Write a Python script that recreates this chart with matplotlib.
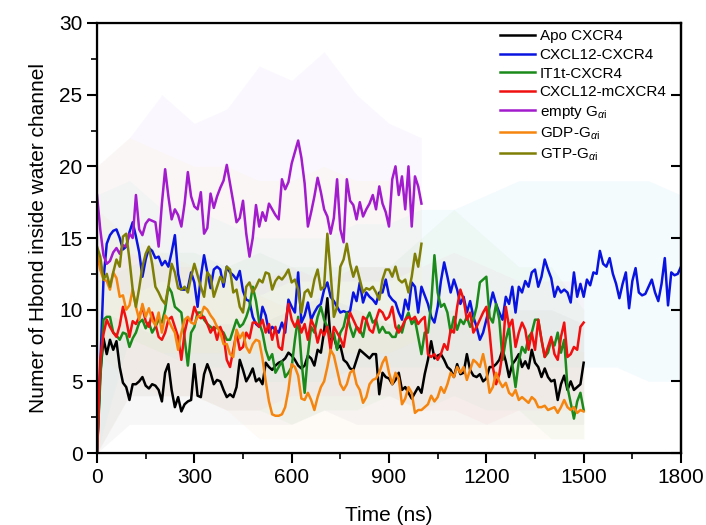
import numpy as np
import matplotlib
matplotlib.use('Agg')
import matplotlib.pyplot as plt
from matplotlib.ticker import MultipleLocator

plt.rcParams['font.family'] = ['Liberation Sans', 'DejaVu Sans']
plt.rcParams['mathtext.fontset'] = 'custom'
plt.rcParams['mathtext.rm'] = 'Liberation Sans'
plt.rcParams['mathtext.it'] = 'Liberation Sans:italic'

# smoothed curves, sampled every 10 ns
apo = [0.0, 5.5, 8.0, 6.9, 7.9, 7.2, 7.8, 6.0, 4.9, 4.6, 3.7, 4.8, 4.8, 5.0, 5.3, 4.7, 4.5, 4.8, 4.7, 4.4,
       3.6, 5.6, 6.2, 4.4, 3.2, 3.9, 2.9, 3.4, 3.6, 3.7, 6.2, 4.0, 3.9, 5.5, 6.2, 5.6, 4.8, 5.1, 5.0, 4.4,
       3.9, 4.1, 3.9, 4.6, 6.5, 5.8, 5.0, 5.4, 5.9, 5.0, 5.2, 4.8, 6.3, 6.0, 5.8, 6.1, 6.3, 6.4, 6.6, 7.0,
       6.8, 6.5, 6.1, 5.9, 6.1, 6.8, 6.6, 6.1, 7.2, 7.0, 8.5, 10.8, 7.9, 8.1, 7.3, 7.5, 6.5, 6.3, 5.9, 5.8,
       6.5, 7.2, 7.0, 6.8, 6.6, 6.9, 6.9, 4.1, 5.6, 5.3, 5.2, 4.8, 5.1, 5.6, 4.4, 4.6, 4.2, 3.8, 4.2, 4.6,
       4.2, 5.5, 6.5, 7.8, 6.6, 6.8, 6.9, 6.5, 6.0, 5.8, 5.3, 6.2, 5.5, 5.6, 6.9, 5.8, 5.4, 5.3, 5.5, 5.0,
       5.2, 6.0, 6.0, 6.2, 6.5, 7.2, 6.4, 5.3, 6.2, 6.5, 6.9, 6.0, 6.4, 5.9, 7.2, 6.3, 6.0, 5.3, 5.9, 5.3,
       5.0, 5.1, 3.7, 4.8, 5.4, 4.4, 5.0, 4.4, 4.6, 4.8, 6.3]

cxcl12 = [0.0, 6.0, 12.1, 14.6, 15.2, 15.5, 15.6, 15.0, 14.2, 14.4, 15.4, 16.1, 15.1, 14.0, 12.3, 13.5, 14.3,
          14.1, 13.6, 13.7, 13.1, 13.4, 13.0, 14.0, 15.2, 12.5, 11.4, 11.4, 11.5, 12.6, 11.9, 10.2, 12.3, 13.8,
          12.6, 11.5, 12.8, 13.0, 12.8, 11.6, 13.0, 12.6, 12.4, 12.1, 12.7, 11.3, 10.7, 10.6, 9.5, 9.0, 8.8,
          10.2, 9.6, 8.4, 8.8, 8.6, 8.4, 9.1, 8.4, 10.7, 10.2, 9.8, 12.6, 9.1, 9.6, 10.5, 9.3, 9.8, 10.2, 10.4,
          11.4, 11.9, 10.9, 10.6, 10.2, 9.8, 9.9, 9.8, 9.9, 11.2, 10.6, 11.9, 10.5, 11.2, 10.9, 10.7, 10.4,
          11.2, 11.2, 12.1, 11.0, 10.7, 10.5, 9.8, 9.3, 10.7, 10.0, 11.9, 11.6, 9.8, 11.6, 11.0, 10.4, 9.5,
          9.1, 10.2, 12.0, 13.3, 12.3, 11.2, 12.1, 11.4, 10.4, 10.9, 9.8, 10.6, 9.5, 8.8, 7.9, 8.4, 9.3, 10.2,
          11.2, 10.4, 9.8, 9.3, 10.9, 10.4, 11.6, 9.8, 11.6, 11.2, 12.0, 11.6, 12.6, 12.8, 11.6, 12.3, 13.5,
          12.8, 12.2, 10.9, 11.6, 11.2, 11.4, 11.2, 10.5, 12.6, 10.9, 11.8, 10.9, 12.1, 11.7, 12.6, 12.5,
          14.1, 13.2, 13.0, 13.6, 12.5, 11.8, 10.8, 11.8, 12.6, 10.1, 12.0, 12.9, 11.2, 11.0, 11.1, 11.6,
          12.1, 11.2, 10.6, 11.8, 13.6, 10.3, 12.6, 12.4, 12.5, 13.0]

it1t = [0.0, 5.0, 9.3, 9.5, 9.5, 8.4, 8.2, 7.9, 8.4, 8.3, 7.4, 8.0, 8.4, 9.1, 9.3, 8.7, 9.1, 8.4, 8.8, 9.3,
        9.1, 10.0, 11.6, 11.2, 10.2, 10.0, 9.8, 8.0, 6.1, 8.4, 8.8, 9.8, 9.8, 9.3, 9.0, 8.8, 8.6, 8.8, 8.6,
        8.4, 7.9, 7.9, 8.6, 9.3, 8.8, 9.0, 9.5, 10.2, 11.6, 10.6, 9.1, 8.4, 7.2, 6.5, 6.9, 5.6, 6.0, 6.4,
        5.3, 5.6, 6.0, 7.9, 9.5, 6.5, 4.2, 6.9, 8.8, 8.4, 9.5, 10.2, 9.3, 8.8, 8.1, 8.4, 7.2, 8.4, 8.8, 9.8,
        8.8, 8.1, 8.8, 8.6, 8.1, 9.3, 9.8, 9.1, 9.3, 8.4, 8.8, 8.4, 8.4, 8.1, 8.1, 8.9, 8.4, 9.3, 9.8, 9.0,
        9.3, 8.1, 6.9, 8.4, 8.4, 10.4, 13.8, 11.2, 10.2, 10.4, 9.8, 8.4, 9.5, 8.6, 9.3, 9.0, 9.5, 8.8, 9.3,
        10.2, 11.9, 12.1, 12.3, 9.5, 9.1, 10.4, 9.3, 6.5, 7.9, 8.8, 6.2, 4.6, 6.4, 7.4, 7.0, 8.1, 8.4, 9.3,
        9.3, 7.9, 6.7, 7.0, 7.9, 7.5, 8.4, 7.0, 7.9, 4.6, 3.5, 2.4, 3.6, 4.2, 3.0]

mutant = [0.0, 6.5, 8.3, 9.3, 8.8, 8.4, 8.1, 8.9, 10.2, 9.3, 8.1, 9.2, 9.0, 9.5, 10.2, 9.2, 8.8, 9.8, 9.0,
          8.1, 7.9, 8.4, 9.3, 9.5, 8.8, 8.1, 6.5, 8.4, 9.4, 9.2, 10.2, 9.6, 9.4, 9.5, 9.0, 8.4, 8.8, 7.9,
          8.8, 8.2, 6.5, 6.0, 7.2, 8.4, 7.2, 7.4, 8.4, 8.0, 9.1, 9.1, 8.8, 9.3, 8.4, 9.0, 7.9, 8.8, 7.4, 7.2,
          9.0, 10.4, 9.3, 8.8, 9.3, 8.4, 9.0, 7.9, 9.3, 8.8, 7.7, 8.6, 8.2, 8.8, 7.2, 8.8, 8.4, 8.0, 7.4,
          8.8, 9.8, 9.3, 8.8, 8.4, 9.5, 9.3, 8.6, 8.4, 9.3, 10.0, 9.8, 9.3, 9.5, 10.2, 8.8, 8.4, 8.8, 9.3,
          9.5, 9.3, 9.5, 9.0, 9.3, 9.5, 6.9, 6.7, 6.9, 6.5, 6.9, 7.6, 7.2, 8.6, 8.4, 10.2, 11.4, 10.7, 9.3,
          9.8, 8.4, 8.8, 9.3, 9.8, 10.2, 8.4, 6.0, 4.8, 5.5, 7.0, 10.2, 8.8, 9.3, 7.4, 8.4, 9.1, 8.6, 7.2,
          8.4, 7.2, 9.3, 7.9, 6.7, 7.4, 8.1, 6.9, 6.5, 8.1, 9.1, 6.7, 6.9, 7.4, 7.2, 8.8, 9.1]

empty_g = [18.0, 15.6, 13.8, 13.2, 13.4, 14.0, 14.3, 13.9, 14.5, 14.4, 15.3, 15.0, 18.0, 15.6, 15.2, 16.0,
           16.3, 16.2, 16.1, 14.4, 17.4, 19.8, 17.9, 16.3, 17.0, 16.6, 15.8, 17.4, 19.6, 17.9, 17.2, 17.0,
           18.2, 15.3, 15.7, 18.1, 17.1, 17.9, 18.5, 19.0, 20.1, 18.8, 17.5, 16.1, 16.4, 17.6, 15.3, 13.7,
           15.0, 17.3, 15.8, 16.8, 16.2, 17.4, 17.0, 16.6, 16.3, 19.1, 18.4, 18.9, 20.2, 21.0, 21.8, 20.6,
           18.8, 15.8, 16.8, 17.9, 19.2, 18.2, 17.0, 16.5, 15.3, 16.4, 19.1, 15.6, 14.7, 19.1, 17.6, 17.3,
           16.3, 17.5, 16.5, 17.0, 17.4, 18.0, 17.0, 18.6, 17.4, 16.8, 15.8, 19.1, 20.0, 18.0, 19.3, 17.0,
           20.0, 15.8, 19.3, 18.6, 17.4]

gdp_g = [14.0, 12.8, 12.1, 12.0, 11.4, 12.6, 12.2, 10.9, 11.0, 10.0, 10.3, 11.4, 10.2, 9.3, 10.4, 9.5, 10.1,
         9.3, 8.9, 9.8, 8.4, 9.6, 9.3, 8.8, 8.4, 7.2, 8.4, 9.3, 9.5, 9.1, 9.0, 9.5, 9.6, 10.2, 10.0, 9.6,
         9.3, 8.8, 8.4, 7.6, 7.6, 6.9, 6.7, 8.6, 8.0, 8.4, 7.4, 7.0, 7.6, 7.9, 7.8, 6.6, 5.0, 3.6, 2.7, 2.6,
         2.6, 2.7, 3.2, 4.4, 6.2, 6.0, 5.4, 3.8, 3.7, 4.2, 3.7, 3.0, 3.9, 4.6, 5.0, 6.0, 7.2, 6.8, 5.8, 4.8,
         4.4, 4.8, 5.6, 5.8, 4.8, 4.4, 3.5, 3.9, 4.8, 5.1, 5.2, 5.6, 6.3, 6.7, 5.6, 4.8, 5.6, 5.2, 3.4, 3.8,
         4.6, 4.2, 2.8, 3.0, 3.0, 3.2, 3.4, 4.0, 3.6, 3.9, 4.6, 4.2, 4.8, 5.6, 5.3, 6.0, 5.6, 6.0, 5.1, 5.8,
         6.5, 6.3, 6.0, 6.9, 5.8, 4.2, 4.6, 5.6, 5.0, 4.6, 4.9, 4.2, 4.0, 4.4, 3.7, 3.9, 3.7, 3.5, 3.9, 3.7,
         3.2, 3.2, 3.3, 3.0, 3.1, 3.2, 2.8, 3.2, 3.7, 3.2, 3.0, 3.2, 2.8, 3.0, 2.9]

gtp_g = [14.4, 13.7, 12.1, 12.5, 11.6, 12.6, 13.5, 13.0, 15.1, 15.3, 13.5, 11.4, 10.2, 11.5, 13.0, 13.9, 14.4,
         13.2, 11.6, 11.2, 10.7, 10.4, 11.6, 13.2, 12.6, 11.5, 11.4, 11.6, 11.2, 12.3, 13.2, 12.4, 11.6, 10.9,
         12.6, 12.3, 10.9, 11.6, 12.3, 11.9, 13.0, 12.8, 11.2, 11.4, 10.2, 9.8, 11.6, 11.9, 11.2, 11.6, 12.1,
         11.9, 12.6, 12.5, 11.4, 12.0, 12.3, 12.1, 12.4, 12.8, 11.9, 12.1, 11.4, 9.8, 11.2, 11.4, 10.9, 12.1,
         12.8, 11.4, 11.6, 15.3, 12.6, 9.5, 10.2, 13.0, 13.5, 14.6, 13.2, 12.3, 13.0, 12.1, 11.2, 11.5, 11.4,
         11.6, 11.2, 10.7, 12.1, 12.8, 12.8, 12.3, 13.0, 12.1, 11.9, 12.1, 11.2, 12.3, 13.9, 13.0, 14.6]

# spread of the raw (unsmoothed) data, every 100 ns: (low, high)
apo_lo = [0, 2, 2, 2, 2, 2, 2, 3, 2, 2, 2, 2, 2, 2, 2, 2]
apo_hi = [10, 9, 8, 9, 9, 9, 10, 11, 10, 9, 10, 10, 10, 10, 10, 9]
cxcl12_lo = [0, 8, 7, 6, 6, 5, 5, 5, 6, 6, 6, 6, 5, 6, 6, 6, 6, 5, 5]
cxcl12_hi = [18, 19, 17, 17, 16, 15, 15, 15, 16, 16, 17, 17, 18, 19, 19, 19, 19, 19, 18]
it1t_lo = [0, 4, 4, 4, 3, 3, 2, 3, 3, 4, 3, 4, 3, 3, 1, 1]
it1t_hi = [12, 13, 14, 14, 13, 14, 13, 13, 13, 13, 15, 17, 15, 13, 13, 10]
mutant_lo = [0, 4, 4, 4, 3, 3, 4, 4, 4, 4, 3, 3, 2, 3, 3, 3]
mutant_hi = [12, 14, 13, 13, 12, 12, 13, 12, 13, 13, 13, 14, 13, 12, 12, 12]
empty_lo = [12, 11, 12, 12, 12, 11, 12, 12, 12, 12, 13]
empty_hi = [20, 22, 25, 23, 24, 27, 26, 28, 25, 23, 22]
gdp_lo = [7, 5, 4, 4, 3, 1, 1, 1, 1, 1, 1, 1, 1, 1, 1, 1]
gdp_hi = [17, 15, 14, 13, 12, 11, 10, 10, 10, 9, 9, 10, 10, 8, 8, 7]
gtp_lo = [8, 8, 7, 7, 7, 7, 7, 7, 7, 7, 8]
gtp_hi = [20, 22, 21, 20, 20, 19, 19, 20, 19, 19, 18]

labels = ['Apo CXCR4', 'CXCL12-CXCR4', 'IT1t-CXCR4', 'CXCL12-mCXCR4',
          r'empty G$_{\alpha\mathrm{i}}$', r'GDP-G$_{\alpha\mathrm{i}}$', r'GTP-G$_{\alpha\mathrm{i}}$']
colors = ['#000000', '#0a14e0', '#1a8a1a', '#f01010', '#a21bcc', '#f5850f', '#7f7f06']
faint = ['#b0b0b0', '#8fd4f2', '#a8e0a8', '#f4b0c8', '#d6b0f4', '#f9d4ac', '#f4f4a0']

curves = [apo, cxcl12, it1t, mutant, empty_g, gdp_g, gtp_g]
spread = [(apo_lo, apo_hi), (cxcl12_lo, cxcl12_hi), (it1t_lo, it1t_hi), (mutant_lo, mutant_hi),
          (empty_lo, empty_hi), (gdp_lo, gdp_hi), (gtp_lo, gtp_hi)]

fig = plt.figure(figsize=(7.06, 5.25), dpi=100)
ax = fig.add_axes([0.1374, 0.1371, 0.8272, 0.8191])

# faint raw spread first
for (lo, hi), c in zip(spread, faint):
    tt = np.arange(len(lo)) * 100
    ax.fill_between(tt, lo, hi, color=c, alpha=0.09, lw=0)

for y, c, lab in zip(curves, colors, labels):
    t = np.arange(len(y)) * 10
    ax.plot(t, y, color=c, lw=1.8, label=lab)

ax.set_xlim(0, 1800)
ax.set_ylim(0, 30)
ax.xaxis.set_major_locator(MultipleLocator(300))
ax.xaxis.set_minor_locator(MultipleLocator(150))
ax.yaxis.set_major_locator(MultipleLocator(5))
ax.yaxis.set_minor_locator(MultipleLocator(2.5))
ax.tick_params(which='major', direction='out', length=7, width=1.5, labelsize=15, top=False, right=False)
ax.tick_params(which='minor', direction='out', length=4, width=1.2, top=False, right=False)
for s in ax.spines.values():
    s.set_linewidth(1.6)

# right axis: inward major ticks, no labels
ax2 = ax.twinx()
ax2.set_ylim(0, 30)
ax2.yaxis.set_major_locator(MultipleLocator(5))
ax2.tick_params(axis='y', direction='in', length=7, width=1.5, labelright=False)
ax2.spines['right'].set_linewidth(1.6)

ax.set_xlabel('Time (ns)', fontsize=15, labelpad=14)
ax.set_ylabel('Numer of Hbond inside water channel', fontsize=15, labelpad=8)

ax.legend(loc='upper left', bbox_to_anchor=(0.69, 0.985), frameon=False, fontsize=11,
          handlelength=2.3, handletextpad=0.3, labelspacing=0.3, borderpad=0, borderaxespad=0)

fig.savefig('out.png', dpi=100)
